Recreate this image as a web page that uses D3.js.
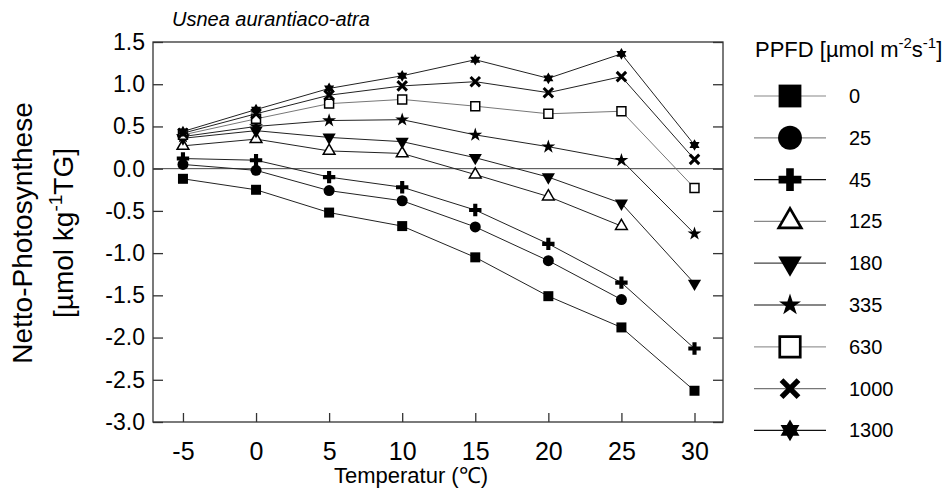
<!DOCTYPE html>
<html>
<head>
<meta charset="utf-8">
<script src="https://cdn.jsdelivr.net/npm/d3@7"></script>
<style>
    body { margin: 0; background: #fff; }
    svg { font-family: "Liberation Sans", Arial, sans-serif; }
</style>
</head>
<body>
<svg id="chart" width="951" height="497"></svg>
<script>

// --------------------------------------
// Data
// --------------------------------------

var temps = [-5, 0, 5, 10, 15, 20, 25, 30];
var ppfdLabels = ["0", "25", "45", "125", "180", "335", "630", "1000", "1300"];

var ppfd0    = [-0.12, -0.25, -0.52, -0.68, -1.05, -1.51, -1.88, -2.63];
var ppfd25   = [0.05, -0.02, -0.26, -0.38, -0.69, -1.09, -1.55, null];
var ppfd45   = [0.12, 0.10, -0.10, -0.22, -0.49, -0.89, -1.35, -2.13];
var ppfd125  = [0.27, 0.35, 0.21, 0.18, -0.07, -0.33, -0.68, null];
var ppfd180  = [0.36, 0.45, 0.37, 0.32, 0.13, -0.10, -0.41, -1.36];
var ppfd335  = [0.38, 0.50, 0.57, 0.58, 0.40, 0.26, 0.10, -0.77];
var ppfd630  = [0.40, 0.59, 0.77, 0.82, 0.74, 0.65, 0.68, -0.23];
var ppfd1000 = [0.42, 0.65, 0.87, 0.98, 1.03, 0.90, 1.09, 0.11];
var ppfd1300 = [0.44, 0.70, 0.95, 1.10, 1.29, 1.07, 1.36, 0.28];

var seriesValues = [ppfd0, ppfd25, ppfd45, ppfd125, ppfd180, ppfd335, ppfd630, ppfd1000, ppfd1300];

var xTicks = [-5, 0, 5, 10, 15, 20, 25, 30];
var yTicks = [1.5, 1.0, 0.5, 0.0, -0.5, -1.0, -1.5, -2.0, -2.5, -3.0];

// --------------------------------------
// Marker styles
// --------------------------------------

// six pointed star (two triangles)
var symbolHexagram = {
    draw: function(context, size) {
        var r = Math.sqrt(size) * 0.6;
        for (var t = 0; t < 2; t++) {
            var a0 = t === 0 ? -Math.PI / 2 : Math.PI / 2;
            for (var k = 0; k < 3; k++) {
                var a = a0 + k * 2 * Math.PI / 3;
                if (k === 0) context.moveTo(r * Math.cos(a), r * Math.sin(a));
                else context.lineTo(r * Math.cos(a), r * Math.sin(a));
            }
            context.closePath();
        }
    }
};

var markers = [
    {type: d3.symbolSquare,   fill: "#000", stroke: "none", sw: 0,   size: 100, lsize: 520, rot: 0,   line: "#222", lline: "#888"},
    {type: d3.symbolCircle,   fill: "#000", stroke: "none", sw: 0,   size: 95,  lsize: 450, rot: 0,   line: "#222", lline: "#888"},
    {type: d3.symbolCross,    fill: "#000", stroke: "none", sw: 0,   size: 85,  lsize: 290, rot: 0,   line: "#222", lline: "#111"},
    {type: d3.symbolTriangle, fill: "#fff", stroke: "#000", sw: 1.5, size: 60,  lsize: 220, rot: 0,   line: "#222", lline: "#888"},
    {type: d3.symbolTriangle, fill: "#000", stroke: "none", sw: 0,   size: 75,  lsize: 240, rot: 180, line: "#222", lline: "#444"},
    {type: d3.symbolStar,     fill: "#000", stroke: "none", sw: 0,   size: 60,  lsize: 150, rot: 0,   line: "#222", lline: "#111"},
    {type: d3.symbolSquare,   fill: "#fff", stroke: "#000", sw: 1.5, size: 80,  lsize: 420, rot: 0,   line: "#777", lline: "#999"},
    {type: d3.symbolX,        fill: "none", stroke: "#000", sw: 3,   size: 60,  lsize: 190, rot: 0,   line: "#222", lline: "#777"},
    {type: symbolHexagram,    fill: "#000", stroke: "none", sw: 0,   size: 95,  lsize: 330, rot: 0,   line: "#222", lline: "#111"}
];

// --------------------------------------
// Scales and frame
// --------------------------------------

var svg = d3.select("#chart");

var plotLeft = 153, plotRight = 723, plotTop = 42, plotBottom = 422;

var x = d3.scaleLinear().domain([-7.05, 31.95]).range([plotLeft, plotRight]);
var y = d3.scaleLinear().domain([-3, 1.5]).range([plotBottom, plotTop]);

// title
svg.append("text")
    .attr("x", 172)
    .attr("y", 26)
    .attr("font-size", 20)
    .attr("font-style", "italic")
    .text("Usnea aurantiaco-atra");

// frame
svg.append("rect")
    .attr("x", plotLeft).attr("y", plotTop)
    .attr("width", plotRight - plotLeft).attr("height", plotBottom - plotTop)
    .attr("fill", "none")
    .attr("stroke", "#333")
    .attr("stroke-width", 1.3);

// zero line
svg.append("line")
    .attr("x1", plotLeft).attr("x2", plotRight)
    .attr("y1", y(0)).attr("y2", y(0))
    .attr("stroke", "#444")
    .attr("stroke-width", 1);

// left axis, ticks pointing inside
var yAxis = svg.append("g")
    .attr("transform", "translate(" + plotLeft + ",0)")
    .call(d3.axisLeft(y).tickValues(yTicks)
        .tickFormat(function(d) { return d.toFixed(1); })
        .tickSizeInner(-10).tickSizeOuter(0).tickPadding(8));
yAxis.select(".domain").remove();
yAxis.selectAll("line").attr("stroke", "#333").attr("stroke-width", 1.3);
yAxis.selectAll("text").attr("font-size", 23).attr("font-family", "Liberation Sans, Arial, sans-serif").attr("fill", "#000");

// right axis, no labels
var yAxisR = svg.append("g")
    .attr("transform", "translate(" + plotRight + ",0)")
    .call(d3.axisRight(y).tickValues(yTicks).tickFormat("")
        .tickSizeInner(-10).tickSizeOuter(0));
yAxisR.select(".domain").remove();
yAxisR.selectAll("line").attr("stroke", "#333").attr("stroke-width", 1.3);

// bottom axis
var xAxis = svg.append("g")
    .attr("transform", "translate(0," + plotBottom + ")")
    .call(d3.axisBottom(x).tickValues(xTicks)
        .tickFormat(function(d) { return String(d); })
        .tickSizeInner(-9).tickSizeOuter(0).tickPadding(20));
xAxis.select(".domain").remove();
xAxis.selectAll("line").attr("stroke", "#333").attr("stroke-width", 1.3);
xAxis.selectAll("text").attr("font-size", 25).attr("font-family", "Liberation Sans, Arial, sans-serif").attr("fill", "#000");

// axis titles
svg.append("text")
    .attr("x", 411)
    .attr("y", 483)
    .attr("text-anchor", "middle")
    .attr("font-size", 22)
    .text("Temperatur (\u2103)");

var yTitle = svg.append("text")
    .attr("transform", "translate(32,233) rotate(-90)")
    .attr("text-anchor", "middle")
    .attr("font-size", 28);
yTitle.append("tspan").attr("x", 0).attr("y", 0).text("Netto-Photosynthese");
var yt2 = yTitle.append("tspan").attr("x", 0).attr("y", 41);
yt2.append("tspan").text("[\u00b5mol kg");
yt2.append("tspan").attr("font-size", 19).attr("dy", -11).text("-1");
yt2.append("tspan").attr("dy", 11).text("TG]");

// --------------------------------------
// Series
// --------------------------------------

var line = d3.line()
    .defined(function(d) { return d[1] !== null; })
    .x(function(d) { return x(d[0]); })
    .y(function(d) { return y(d[1]); });

var symbol = d3.symbol();

seriesValues.forEach(function(vals, i) {
    var pts = temps.map(function(t, j) { return [t, vals[j]]; })
        .filter(function(d) { return d[1] !== null; });
    var m = markers[i];

    svg.append("path")
        .datum(pts)
        .attr("d", line)
        .attr("fill", "none")
        .attr("stroke", m.line)
        .attr("stroke-width", 1);

    svg.append("g").selectAll("path")
        .data(pts)
        .enter().append("path")
        .attr("transform", function(d) {
            return "translate(" + x(d[0]) + "," + y(d[1]) + ") rotate(" + m.rot + ")";
        })
        .attr("d", symbol.type(m.type).size(m.size)())
        .attr("fill", m.fill)
        .attr("stroke", m.stroke)
        .attr("stroke-width", m.sw);
});

// --------------------------------------
// Legend
// --------------------------------------

var header = svg.append("text")
    .attr("x", 755)
    .attr("y", 57)
    .attr("font-size", 22);
header.append("tspan").text("PPFD [\u00b5mol m");
header.append("tspan").attr("font-size", 15).attr("dy", -9).text("-2");
header.append("tspan").attr("dy", 9).text("s");
header.append("tspan").attr("font-size", 15).attr("dy", -9).text("-1");
header.append("tspan").attr("dy", 9).text("]");

ppfdLabels.forEach(function(lab, i) {
    var ly = 96 + i * 41.8;
    var m = markers[i];
    var g = svg.append("g").attr("transform", "translate(0," + ly + ")");

    g.append("line")
        .attr("x1", 754).attr("x2", 826)
        .attr("stroke", m.lline)
        .attr("stroke-width", 1.2);

    g.append("path")
        .attr("transform", "translate(790,0) rotate(" + m.rot + ")")
        .attr("d", symbol.type(m.type).size(m.lsize)())
        .attr("fill", m.fill)
        .attr("stroke", m.stroke)
        .attr("stroke-width", m.sw === 0 ? 0 : m.sw * 1.8);

    g.append("text")
        .attr("x", 849)
        .attr("y", 7)
        .attr("font-size", 20)
        .text(lab);
});

</script>
</body>
</html>
